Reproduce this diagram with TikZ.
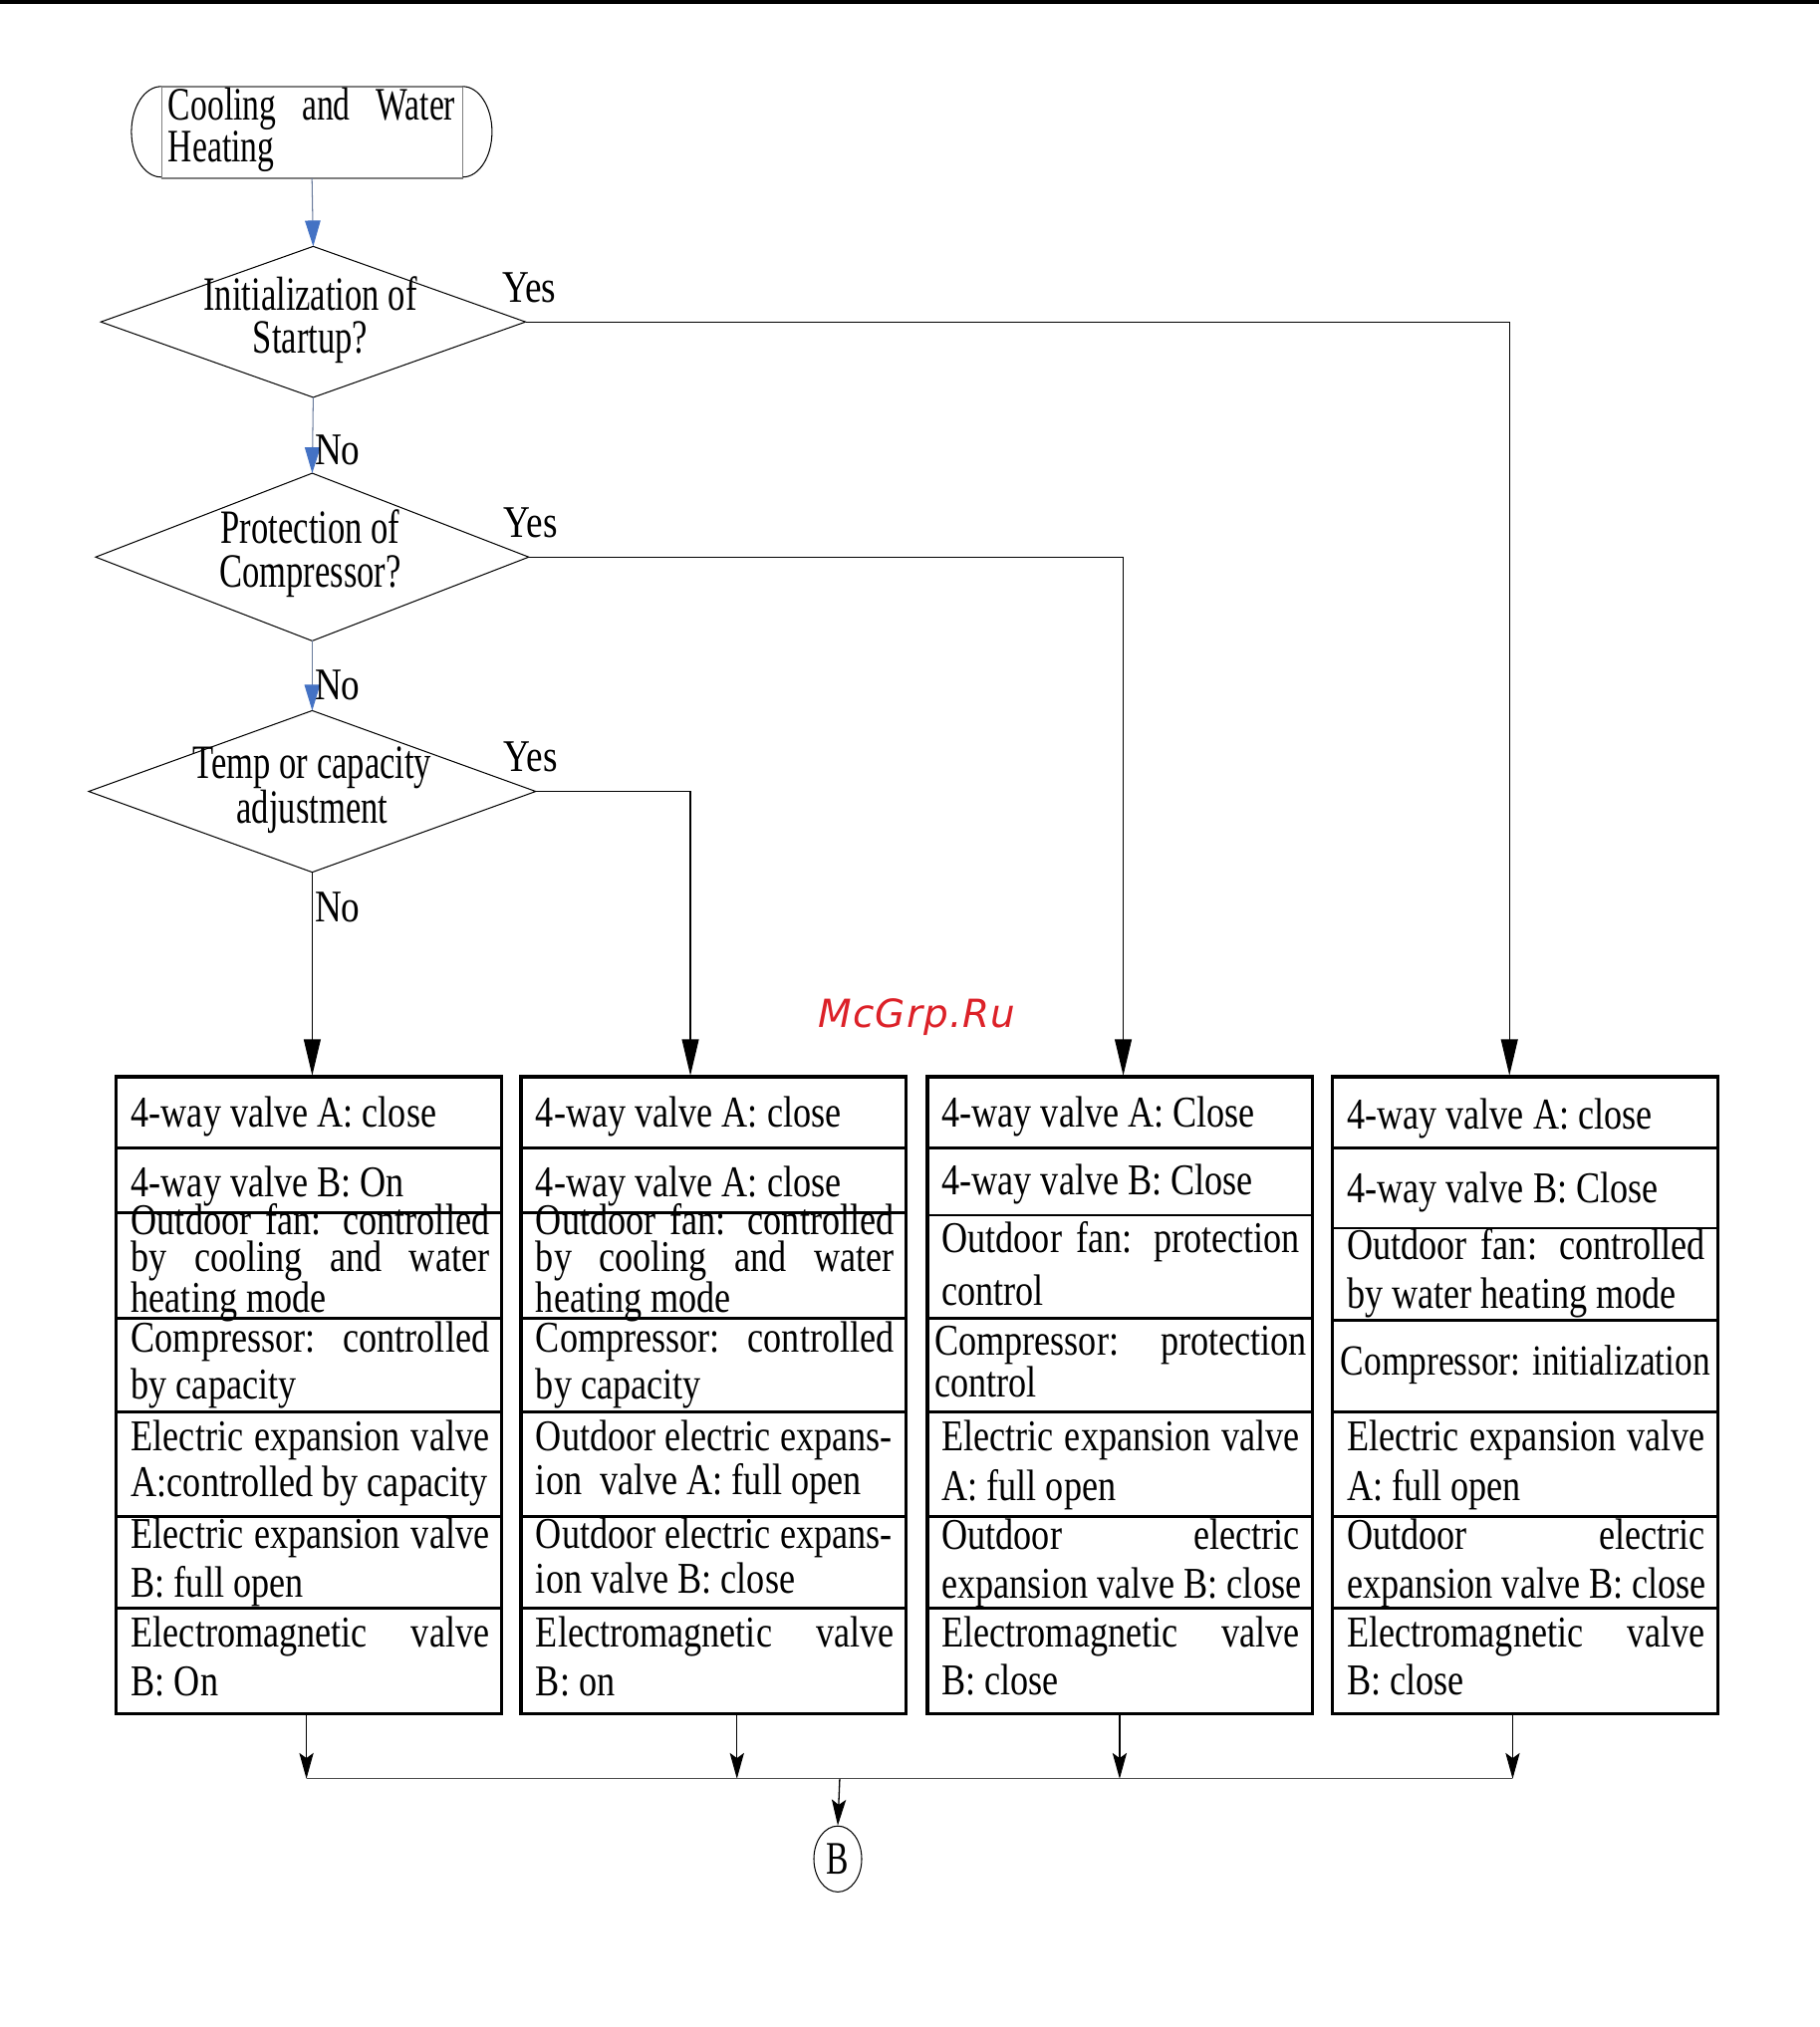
\documentclass[tikz,border=0pt]{standalone}
\usepackage{fontspec}
\setmainfont{Liberation Serif}
\newfontfamily\narrowA[FakeStretch=0.82]{Liberation Serif}
\newfontfamily\narrowB[FakeStretch=0.72]{Liberation Serif}
\newfontfamily\wmfont[LetterSpace=3]{DejaVu Sans}
\usetikzlibrary{arrows.meta, shapes.geometric, calc}
\definecolor{flowblue}{HTML}{4472C4}
\definecolor{wmred}{HTML}{DC2128}
\newcommand{\cellfont}[1]{\narrowA\fontsize{34}{#1}\selectfont}
\newcommand{\diafont}{\narrowB\fontsize{37}{33.5}\selectfont}
\newcommand{\jline}[2][277pt]{\makebox[#1][s]{#2}}

\begin{document}
\begin{tikzpicture}[x=1pt, y=-1pt, line width=1pt,
	arr/.style={-{Triangle[length=28pt, width=13pt]}},
	barr/.style={draw=gray!60!flowblue, line width=0.8pt, -{Triangle[length=20pt, width=12pt, color=flowblue, fill=flowblue]}},
	sarr/.style={-{Stealth[length=20pt, width=11pt, inset=4pt]}},
	decision/.style={diamond, draw, line width=0.8pt, inner sep=0pt, outer sep=0pt},
	dtext/.style={anchor=base, align=center, inner sep=0pt, font=\diafont},
	lbl/.style={anchor=base west, inner sep=0pt, font=\narrowA\fontsize{35}{40}\selectfont},
	colbox/.style={draw, line width=2.5pt, minimum width=298pt, minimum height=492.5pt, inner sep=0pt},
	rowline/.style={line width=2.2pt},
	cell/.style={anchor=base west, align=left, inner sep=0pt, font=\cellfont{35}}]
	\useasboundingbox (0,0) rectangle (1407,1568);
	\draw[line width=3pt] (0,1.5) -- (1407,1.5);

	\node[draw=gray, line width=0.8pt, minimum width=232.5pt, minimum height=70.1pt, inner sep=0pt] (start) at (241.3,102.35) {};
	\draw[gray, line width=2pt] (start.north west) -- (start.north east) (start.south west) -- (start.south east);
	\draw[line width=0.8pt] (start.north west) arc[start angle=-90, end angle=-270, x radius=23, y radius=35.05];
	\draw[line width=0.8pt] (start.north east) arc[start angle=-90, end angle=90, x radius=22.6, y radius=35.05];
	\node[anchor=base west, align=left, inner sep=0pt, font=\narrowB\fontsize{36}{31}\selectfont] (startt) at (129.7,125.3) {\jline[222pt]{Cooling and Water}\\ Heating};

	\node[decision, minimum width=328.5pt, minimum height=116.8pt] (d1) at (242.25,249) {};
	\node[dtext] (d1t) at (240,273.5) {Initialization of\\ Startup?};
	\node[decision, minimum width=335pt, minimum height=129.7pt] (d2) at (241.5,430.9) {};
	\node[dtext, font=\narrowB\fontsize{37}{34.4}\selectfont] (d2t) at (240,454.4) {Protection of\\ Compressor?};
	\node[decision, minimum width=345.8pt, minimum height=125pt] (d3) at (241.5,612.2) {};
	\node[dtext] (d3t) at (241.5,636.7) {Temp or capacity\\ adjustment};

	\draw[barr] (start.south) -- (d1.north);
	\draw[barr] (d1.south) -- (d2.north);
	\draw[barr] (d2.south) -- (d3.north);

	\node[lbl] (y1) at (388,234.2) {Yes};
	\node[lbl] (y2) at (389.2,415.5) {Yes};
	\node[lbl] (y3) at (389.2,596.5) {Yes};
	\node[lbl] (n1) at (243,359.1) {No};
	\node[lbl] (n2) at (243,541.1) {No};
	\node[lbl] (n3) at (243,713.4) {No};

	\node[colbox] (c1) at (239,1079.25) {};
	\node[colbox] (c2) at (552,1079.25) {};
	\node[colbox] (c3) at (866.3,1079.25) {};
	\node[colbox] (c4) at (1179.6,1079.25) {};
	\foreach \xl/\ya/\yb in {90/938/1020, 403/938/1020, 717.1/940/1020, 1030.3/950/1021}
		\foreach \y in {888,\ya,\yb,1092,1173,1244}
			\draw[rowline] (\xl,\y) -- ++(298.5,0);

	\coordinate (in1) at (241.5,832);
	\coordinate (in2) at (534,832);
	\coordinate (in3) at (868.8,832);
	\coordinate (in4) at (1167.5,832);
	\draw[arr] (d3.south) -- (in1);
	\draw[arr] (d3.east) -| (in2);
	\draw[arr] (d2.east) -| (in3);
	\draw[arr] (d1.east) -| (in4);

	\node[anchor=base west, inner sep=0pt, text=wmred, font=\wmfont\itshape\fontsize{30}{36}\selectfont] (mark) at (632.4,795) {McGrp.Ru};

	\node[cell] (c1r1) at (101,872) {4-way valve A: close};
	\node[cell] (c1r2) at (101,926) {4-way valve B: On};
	\node[cell, font=\cellfont{28.3}] (c1r3) at (101,1015.1) {\jline{Outdoor fan: controlled}\\ \jline{by cooling and water}\\ heating mode};
	\node[cell, font=\cellfont{36.8}] (c1r4) at (101,1082.5) {\jline{Compressor: controlled}\\ by capacity};
	\node[cell] (c1r5) at (101,1157.6) {\jline{Electric expansion valve}\\ A:controlled by capacity};
	\node[cell, font=\cellfont{38}] (c1r6) at (101,1235.8) {\jline{Electric expansion valve}\\ B: full open};
	\node[cell, font=\cellfont{37.5}] (c1r7) at (101,1311.5) {\jline{Electromagnetic valve}\\ B: On};

	\node[cell] (c2r1) at (414,872) {4-way valve A: close};
	\node[cell] (c2r2) at (414,926) {4-way valve A: close};
	\node[cell, font=\cellfont{28.3}] (c2r3) at (414,1015.1) {\jline{Outdoor fan: controlled}\\ \jline{by cooling and water}\\ heating mode};
	\node[cell, font=\cellfont{36.8}] (c2r4) at (414,1082.5) {\jline{Compressor: controlled}\\ by capacity};
	\node[cell, font=\cellfont{33.4}] (c2r5) at (414,1156) {Outdoor electric expans-\\ ion\ \ valve A: full open};
	\node[cell] (c2r6) at (414,1232.8) {Outdoor electric expans-\\ ion valve B: close};
	\node[cell, font=\cellfont{37.5}] (c2r7) at (414,1311.5) {\jline{Electromagnetic valve}\\ B: on};

	\node[cell] (c3r1) at (728,872) {4-way valve A: Close};
	\node[cell] (c3r2) at (728,924.4) {4-way valve B: Close};
	\node[cell, font=\cellfont{41.2}] (c3r3) at (728,1010) {\jline{Outdoor fan: protection}\\ control};
	\node[cell, font=\cellfont{32.8}] (c3r4) at (722.4,1080.8) {\jline[288pt]{Compressor: protection}\\ control};
	\node[cell, font=\cellfont{37.8}] (c3r5) at (728,1160.4) {\jline{Electric expansion valve}\\ A: full open};
	\node[cell, font=\cellfont{37.4}] (c3r6) at (728,1236.2) {\jline{Outdoor electric}\\ expansion valve B: close};
	\node[cell, font=\cellfont{36.8}] (c3r7) at (728,1310.8) {\jline{Electromagnetic valve}\\ B: close};

	\node[cell] (c4r1) at (1041.4,873) {4-way valve A: close};
	\node[cell] (c4r2) at (1041.4,930.4) {4-way valve B: Close};
	\node[cell, font=\cellfont{37.8}] (c4r3) at (1041.4,1012.3) {\jline{Outdoor fan: controlled}\\ by water heating mode};
	\node[cell, font=\narrowA\fontsize{33.2}{35}\selectfont] (c4r4) at (1036.5,1064) {Compressor: initialization};
	\node[cell, font=\cellfont{37.8}] (c4r5) at (1041.4,1160.4) {\jline{Electric expansion valve}\\ A: full open};
	\node[cell, font=\cellfont{37.4}] (c4r6) at (1041.4,1236.2) {\jline{Outdoor electric}\\ expansion valve B: close};
	\node[cell, font=\cellfont{36.8}] (c4r7) at (1041.4,1310.8) {\jline{Electromagnetic valve}\\ B: close};

	\foreach \i/\x in {1/237,2/570,3/866,4/1170} {
		\coordinate (o\i) at (\x,1376);
		\draw[sarr] (c\i.south -| o\i) -- (o\i);
	}
	\draw[black!70] (o1) -- (o4);
	\node[ellipse, draw, line width=0.8pt, minimum width=37pt, minimum height=51pt, inner sep=0pt, font=\narrowB\fontsize{36}{40}\selectfont] (endB) at (648,1438) {B};
	\coordinate (jn) at (649.5,1376);
	\draw[sarr] (jn) -- (endB.north);
\end{tikzpicture}
\end{document}
